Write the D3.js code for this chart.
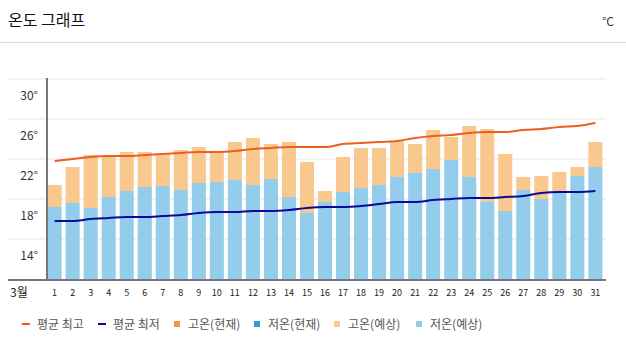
<!DOCTYPE html>
<html>
<head>
<meta charset="utf-8">
<script src="https://cdn.jsdelivr.net/npm/d3@7"></script>
<style>
  body { margin:0; background:#fff; font-family:"Noto Sans CJK KR","Noto Sans",sans-serif; }
  svg text { font-family:"Noto Sans CJK KR","Noto Sans",sans-serif; }
</style>
</head>
<body>
<div id="temp-chart"></div>
<script>
// March daily values (forecast bars + climatological lines)
var days = d3.range(1, 32);
var highForecast = [21.4,23.2,24.4,24.3,24.7,24.7,24.4,24.9,25.2,24.7,25.7,26.1,25.5,25.7,23.7,20.8,
                    24.2,25.1,25.1,25.8,25.5,26.9,26.2,27.3,27.0,24.5,22.2,22.3,22.7,23.2,25.7];
var lowForecast  = [19.2,19.6,19.1,20.2,20.8,21.2,21.3,20.9,21.6,21.7,21.9,21.4,22.0,20.2,18.6,19.7,
                    20.7,21.1,21.4,22.2,22.6,23.0,23.9,22.2,19.7,18.8,20.9,20.0,20.7,22.3,23.2];
var avgHigh = [23.8,24.0,24.2,24.3,24.3,24.4,24.5,24.6,24.7,24.7,24.8,25.0,25.1,25.2,25.2,25.2,
               25.5,25.6,25.7,25.8,26.1,26.3,26.4,26.6,26.7,26.7,26.9,27.0,27.2,27.3,27.6];
var avgLow  = [17.8,17.8,18.0,18.1,18.2,18.2,18.3,18.4,18.6,18.7,18.7,18.8,18.8,18.9,19.1,19.2,
               19.2,19.3,19.5,19.7,19.7,19.9,20.0,20.1,20.1,20.2,20.3,20.6,20.7,20.7,20.8];
var yTicks = [14, 18, 22, 26, 30];
var gridVals = [16, 20, 24, 28, 32];
var legendLabels = ['평균 최고','평균 최저','고온(현재)','저온(현재)','고온(예상)','저온(예상)'];

var colors = {
  avgHigh:'#ec5f1f', avgLow:'#0a0a96',
  highNow:'#f7963a', lowNow:'#2a9fd6',
  highFc:'#f9c88f', lowFc:'#93cdeb'
};

function drawTempChart(){
  var width = 626, height = 354;
  var svg = d3.select('#temp-chart').append('svg')
      .attr('width', width).attr('height', height);

  // header
  svg.append('text').attr('x', 8).attr('y', 26)
      .style('font-size', '16px').style('fill', '#111').text('온도 그래프');
  svg.append('text').attr('x', 614).attr('y', 26).attr('text-anchor', 'end')
      .style('font-size', '12px').style('fill', '#333').text('°C');
  svg.append('line').attr('x1', 0).attr('x2', width).attr('y1', 42.5).attr('y2', 42.5)
      .style('stroke', '#dcdcdc');

  var x = d3.scaleBand().domain(days).range([46.5, 603.5])
      .paddingInner(0.22).paddingOuter(0.06);
  var y = d3.scaleLinear().domain([12, 32]).range([279, 79]);

  // grid
  svg.selectAll('.grid').data(gridVals).enter().append('line')
      .attr('x1', 8).attr('x2', 606)
      .attr('y1', function(d){ return y(d); }).attr('y2', function(d){ return y(d); })
      .style('stroke', '#eeeeee').style('stroke-width', 1.5);

  // y labels
  svg.selectAll('.ylab').data(yTicks).enter().append('text')
      .attr('x', 38).attr('y', function(d){ return y(d) + 1; })
      .attr('text-anchor', 'end')
      .style('font-size', '12px').style('fill', '#333')
      .text(function(d){ return d + '°'; });

  // bars: low part and high part
  svg.selectAll('.low').data(days).enter().append('rect')
      .attr('x', function(d){ return x(d); })
      .attr('width', x.bandwidth())
      .attr('y', function(d, i){ return y(lowForecast[i]); })
      .attr('height', function(d, i){ return y(12) - y(lowForecast[i]); })
      .style('fill', colors.lowFc);

  svg.selectAll('.high').data(days).enter().append('rect')
      .attr('x', function(d){ return x(d); })
      .attr('width', x.bandwidth())
      .attr('y', function(d, i){ return y(highForecast[i]); })
      .attr('height', function(d, i){ return y(lowForecast[i]) - y(highForecast[i]); })
      .style('fill', colors.highFc);

  // average lines
  var line = d3.line()
      .x(function(d, i){ return x(days[i]) + x.bandwidth() / 2; })
      .y(function(d){ return y(d); })
      .curve(d3.curveMonotoneX);
  svg.append('path').datum(avgHigh).attr('d', line)
      .style('fill', 'none').style('stroke', colors.avgHigh).style('stroke-width', 2);
  svg.append('path').datum(avgLow).attr('d', line)
      .style('fill', 'none').style('stroke', colors.avgLow).style('stroke-width', 2);

  // axes lines
  svg.append('line').attr('x1', 47).attr('x2', 47).attr('y1', 78).attr('y2', 279)
      .style('stroke', '#777').style('stroke-width', 2);
  svg.append('line').attr('x1', 8).attr('x2', 606).attr('y1', 280).attr('y2', 280)
      .style('stroke', '#777').style('stroke-width', 2);

  // x labels
  svg.append('text').attr('x', 10).attr('y', 297)
      .style('font-size', '12px').style('fill', '#222').text('3월');
  svg.selectAll('.xlab').data(days).enter().append('text')
      .attr('x', function(d){ return x(d) + x.bandwidth() / 2; })
      .attr('y', 296).attr('text-anchor', 'middle')
      .style('font-size', '9px').style('fill', '#222')
      .text(function(d){ return d; });

  // legend
  var legendX = [22, 98, 174, 254, 334, 416];
  var legendColors = [colors.avgHigh, colors.avgLow, colors.highNow, colors.lowNow, colors.highFc, colors.lowFc];
  var lg = svg.selectAll('.legend').data(legendLabels).enter().append('g')
      .attr('transform', function(d, i){ return 'translate(' + legendX[i] + ',324)'; });
  lg.append('rect')
      .attr('x', 0)
      .attr('y', function(d, i){ return i < 2 ? -1 : -3; })
      .attr('width', function(d, i){ return i < 2 ? 8 : 6; })
      .attr('height', function(d, i){ return i < 2 ? 2 : 6; })
      .style('fill', function(d, i){ return legendColors[i]; });
  lg.append('text').attr('x', function(d, i){ return i < 2 ? 15 : 14; }).attr('y', 4.5)
      .style('font-size', '12px').style('fill', '#555')
      .text(function(d){ return d; });
}

drawTempChart();
</script>
</body>
</html>
